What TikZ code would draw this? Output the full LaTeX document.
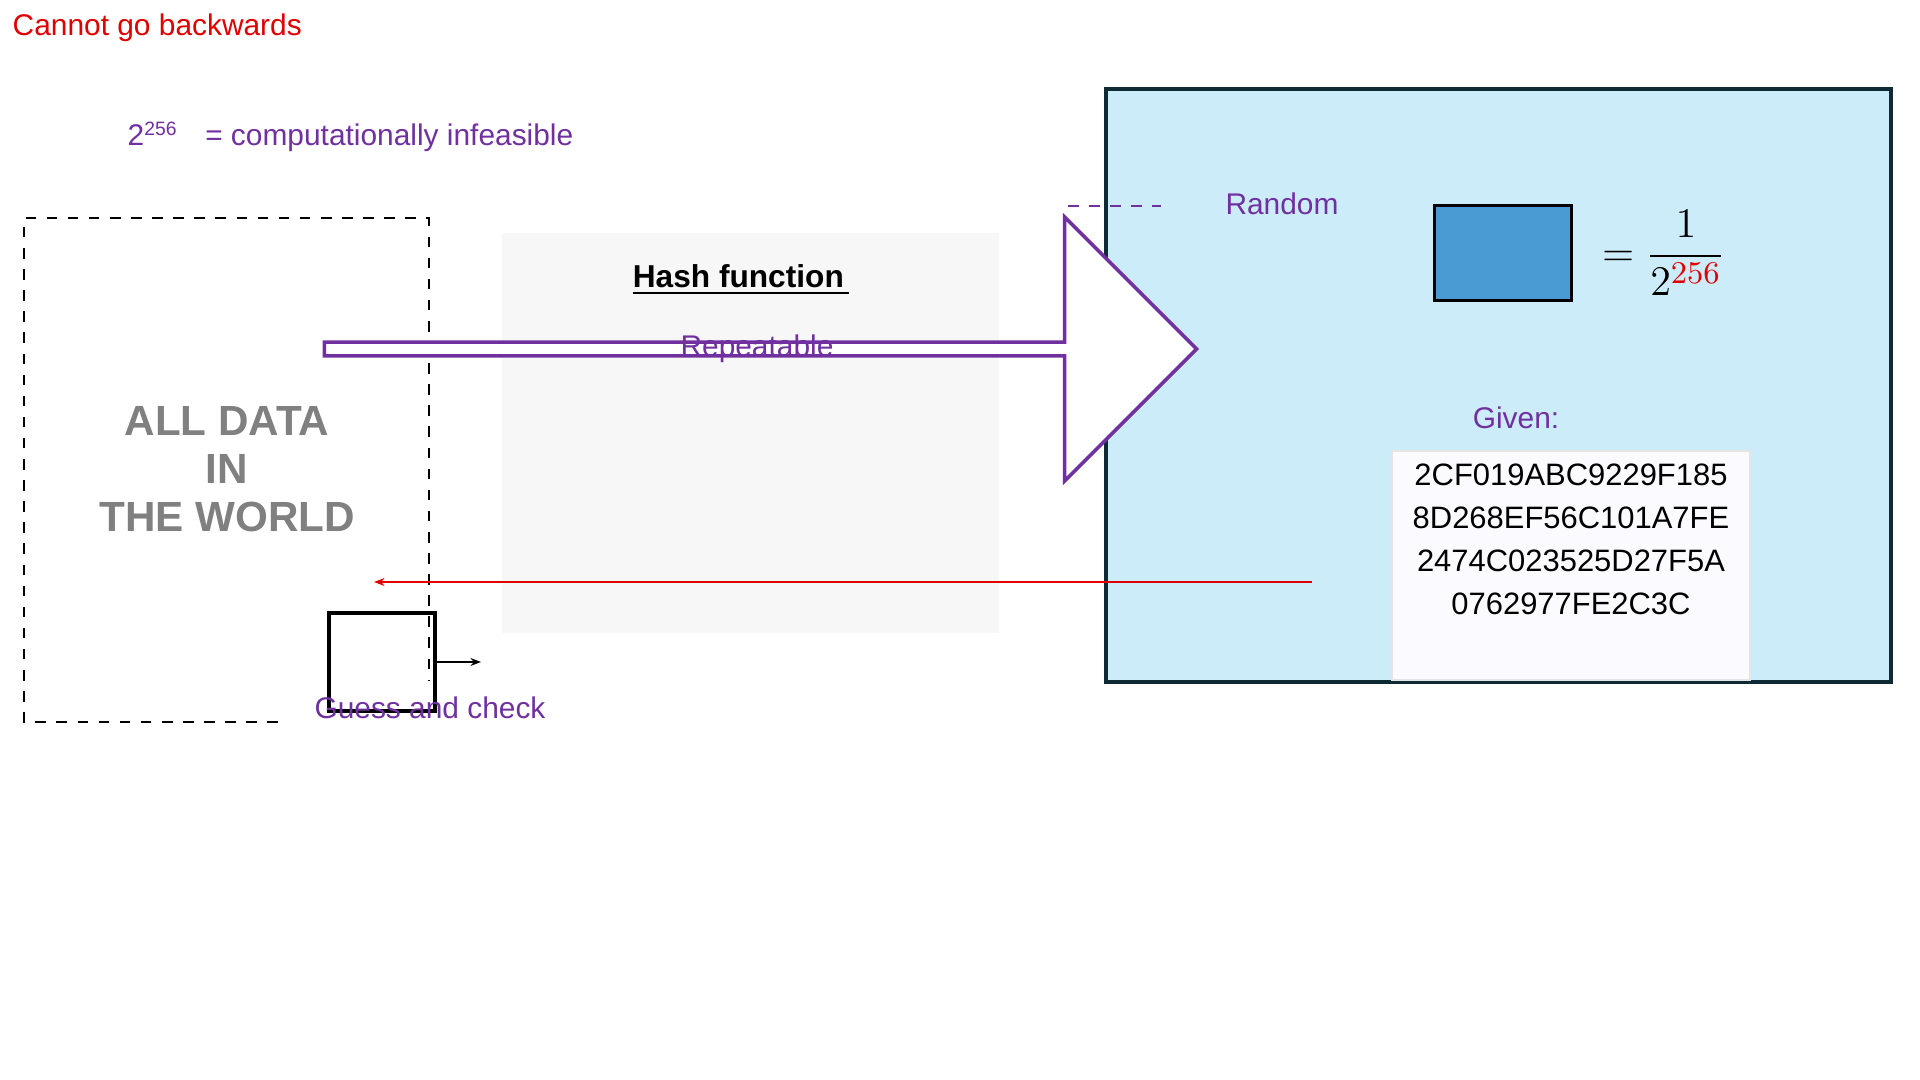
\documentclass[tikz,border=0pt]{standalone}
\usepackage{amsmath}
\usepackage{fontspec}
\setmainfont{Liberation Sans}
\usetikzlibrary{positioning, arrows.meta, shapes.arrows}
\definecolor{purp}{HTML}{7030A0}
\definecolor{redtxt}{HTML}{E00000}
\definecolor{skyfill}{HTML}{CCECFA}
\definecolor{skyline}{HTML}{0E2A35}
\definecolor{boxblue}{HTML}{4A9AD4}
\tikzset{
  note/.style={text=purp, font=\fontsize{8.5}{10}\selectfont, inner sep=0pt},
  hexline/.style={font=\fontsize{8.8}{10}\selectfont, inner sep=0pt},
}
\begin{document}
\begin{tikzpicture}[x=0.01cm, y=-0.01cm]
    \useasboundingbox (0,0) rectangle (1920,1080);
    % panels
    \fill[gray!6] (502,233) rectangle (999,633);
    \draw[skyline, line width=1.3pt, fill=skyfill] (1106,89) rectangle (1891,682);
    \fill[white!96!blue!40!white, draw=gray!20] (1392,451) rectangle (1750,680);
    \draw[dashed, thin] (278,722) -- (24,722) -- (24,218) -- (429,218) -- (429,680);

    \node[text=redtxt, font=\fontsize{8.5}{10}\selectfont, anchor=west, inner sep=0pt] (title) at (12,28) {Cannot go backwards};
    \node[note, anchor=west] (infeas) at (127,137) {2\textsuperscript{\fontsize{5.5}{6}\selectfont 256}\hspace{0.9em}= computationally infeasible};

    \node[text=gray, font=\bfseries\fontsize{12}{13.6}\selectfont, align=center] (world) at (227,469) {ALL DATA\\IN\\THE WORLD};

    \node[font=\bfseries\fontsize{9}{10}\selectfont, inner sep=0pt] (hash) at (741,280) {\underline{Hash function\,}};
    \node[single arrow, draw=purp, line width=1pt, fill=white, minimum height=248, minimum width=75,
          single arrow head extend=9pt, inner sep=0pt, text width=195, align=center] (rep) at (757,349) {};
    \node[note] (replabel) at (757,349) {Repeatable};

    \coordinate (rnd) at (1068,206);
    \node[note] (random) at (1282,204) {Random};
    \draw[purp, dashed, thick] (rnd) -- ++(93,0);

    \node[draw=black, line width=1pt, fill=boxblue, minimum width=39, minimum height=27, inner sep=0pt] (cell) at (1503,253) {};
    \node[font=\fontsize{13}{14}\selectfont, right=8pt of cell, inner sep=0pt] (frac)
        {$=\dfrac{1}{2^{\textcolor{redtxt}{256}}}$};

    \node[note] (given) at (1516,418) {Given:};
    \node[hexline] (h1) at (1571,475) {2CF019ABC9229F185};
    \node[hexline] (h2) at (1571,518) {8D268EF56C101A7FE};
    \node[hexline] (h3) at (1571,561) {2474C023525D27F5A};
    \node[hexline] (h4) at (1571,604) {0762977FE2C3C};

    \coordinate (back) at (1312,582);
    \coordinate (guessend) at (374,582);
    \draw[redtxt, -{Stealth[length=3pt]}] (back) -- (guessend);

    \node[draw=black, line width=1.2pt, minimum width=30, minimum height=28, inner sep=0pt] (guess) at (382,662) {};
    \coordinate (try) at (481,662);
    \draw[-{Stealth[length=3pt]}, thin] (guess) -- (try);
    \node[note] (gc) at (430,708) {Guess and check};
\end{tikzpicture}
\end{document}
